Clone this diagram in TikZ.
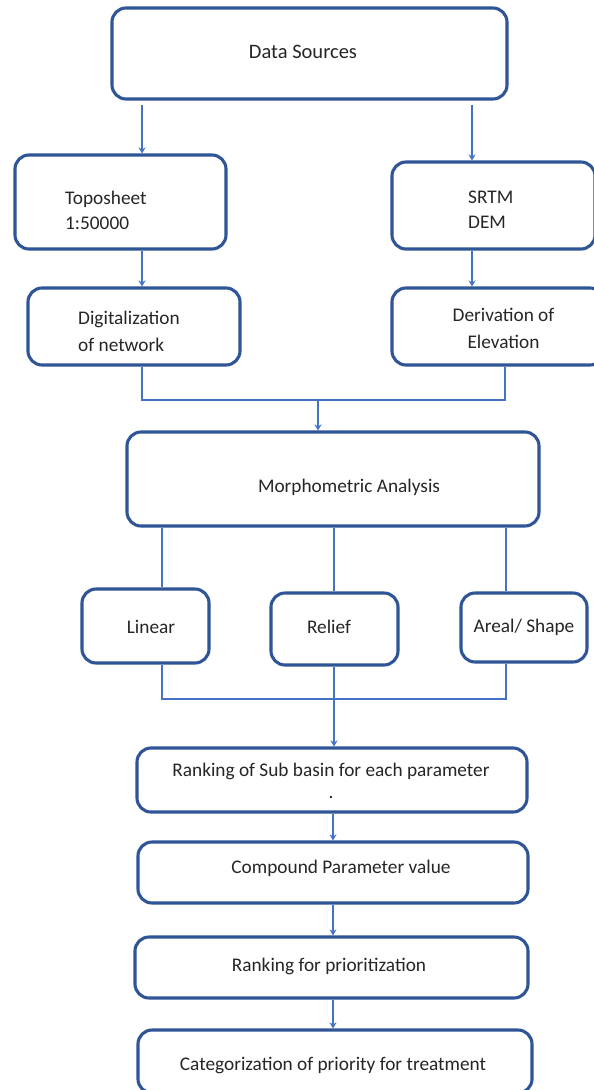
\documentclass[tikz,border=0pt]{standalone}
\usepackage{fontspec}
\setmainfont{Carlito}
\usetikzlibrary{arrows.meta}
\definecolor{boxblue}{HTML}{2F5597}
\definecolor{linkblue}{HTML}{4472C4}
\begin{document}
\begin{tikzpicture}[x=1pt,y=-1pt,
  box/.style={draw=boxblue, line width=3.1pt, rounded corners=14pt, inner sep=0pt, fill=white},
  lbl/.style={inner sep=0pt, font=\fontsize{19.3}{25}\selectfont, text=black!85},
  link/.style={draw=linkblue, line width=2.8pt},
  arr/.style={link, -{Stealth[length=6pt,width=7pt]}}]
\useasboundingbox (0,0) rectangle (594,1090);
\clip (0,0) rectangle (594,1090);
\fill[white] (0,0) rectangle (594,1090);
% boxes
\node[box, minimum width=395pt, minimum height=91pt] (ds) at (309.5,53.5) {};
\node[box, minimum width=211pt, minimum height=94pt] (topo) at (120.5,202) {};
\node[box, minimum width=203pt, minimum height=87pt] (srtm) at (493.5,205.5) {};
\node[box, minimum width=212pt, minimum height=77pt] (dig) at (134,326.5) {};
\node[box, minimum width=212pt, minimum height=77pt] (deriv) at (498,326.5) {};
\node[box, minimum width=412pt, minimum height=94pt] (morph) at (333,479) {};
\node[box, minimum width=127pt, minimum height=74pt] (linear) at (145.5,626) {};
\node[box, minimum width=127pt, minimum height=72pt] (relief) at (334.5,629) {};
\node[box, minimum width=126pt, minimum height=69pt] (areal) at (524,627.5) {};
\node[box, minimum width=390pt, minimum height=64pt] (rank1) at (332,780) {};
\node[box, minimum width=390pt, minimum height=61pt] (comp) at (333,872.5) {};
\node[box, minimum width=393pt, minimum height=61pt] (rank2) at (331.5,967.5) {};
\node[box, minimum width=394pt, minimum height=63pt] (cat) at (335,1061.5) {};
% texts
\node[lbl, font=\fontsize{20.5}{25}\selectfont] (tds) at (303,52) {Data Sources};
\node[lbl, align=left, anchor=west] (ttopo) at (65,210) {Toposheet\\1:50000};
\node[lbl, align=left, anchor=west] (tsrtm) at (468,210) {SRTM\\DEM};
\node[lbl, align=left, anchor=west, font=\fontsize{19.3}{27}\selectfont] (tdig) at (78,331.5) {Digitalization\\of network};
\node[lbl, align=center, font=\fontsize{19.3}{27}\selectfont] (tderiv) at (503.5,328.5) {Derivation of\\Elevation};
\node[lbl] (tmorph) at (349,487) {Morphometric Analysis};
\node[lbl] (tlinear) at (151,627) {Linear};
\node[lbl] (trelief) at (329,627) {Relief};
\node[lbl] (tareal) at (524,627) {Areal/ Shape};
\node[lbl, align=center, font=\fontsize{19.3}{22}\selectfont] (trank1) at (331,781) {Ranking of Sub basin for each parameter\\.};
\node[lbl] (tcomp) at (341,868) {Compound Parameter value};
\node[lbl] (trank2) at (329,966) {Ranking for prioritization};
\node[lbl] (tcat) at (333,1065) {Categorization of priority for treatment};
% connector coordinates
\coordinate (xl) at (142,0);
\coordinate (xr) at (472,0);
\coordinate (xd) at (505,0);
\coordinate (j1) at (318,400);
\coordinate (xa) at (162,0);
\coordinate (xb) at (334,0);
\coordinate (xc) at (506,0);
\coordinate (j2) at (334,699);
\coordinate (xm) at (333,0);
% connectors
\draw[arr] ([yshift=-4pt]ds.south -| xl) -- (topo.north -| xl);
\draw[arr] ([yshift=-4pt]ds.south -| xr) -- (srtm.north -| xr);
\draw[arr] (topo.south -| xl) -- (dig.north -| xl);
\draw[arr] (srtm.south -| xr) -- (deriv.north -| xr);
\draw[link] (dig.south -| xl) |- (j1) -| (deriv.south -| xd);
\draw[arr] (j1) -- (morph.north -| j1);
\draw[link] (morph.south -| xa) -- (linear.north -| xa);
\draw[link] (morph.south -| xb) -- (relief.north -| xb);
\draw[link] (morph.south -| xc) -- (areal.north -| xc);
\draw[link] (linear.south -| xa) |- (j2) -| (areal.south -| xc);
\draw[link] (relief.south -| xb) -- (j2);
\draw[arr] (j2) -- (rank1.north -| j2);
\draw[arr] (rank1.south -| xm) -- (comp.north -| xm);
\draw[arr] (comp.south -| xm) -- (rank2.north -| xm);
\draw[arr] (rank2.south -| xm) -- (cat.north -| xm);
\end{tikzpicture}
\end{document}
